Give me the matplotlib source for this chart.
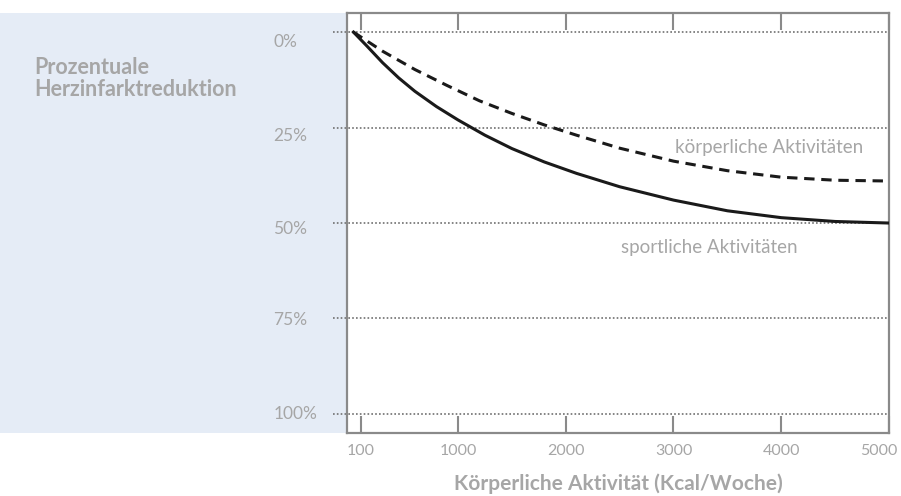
import matplotlib
matplotlib.use("Agg")
import matplotlib.pyplot as plt
import matplotlib.transforms as mtransforms
from matplotlib.patches import Rectangle

# data (reduction in %, activity in kcal/week)
x_sport = [30, 150, 300, 450, 600, 800, 1000, 1250, 1500, 1800, 2100, 2500, 3000, 3500, 4000, 4500, 4990]
y_sport = [0, 3.5, 8, 12, 15.5, 19.5, 23, 27, 30.5, 34, 37, 40.5, 44, 46.8, 48.6, 49.6, 50]
x_koerper = [30, 300, 600, 900, 1200, 1500, 1800, 2100, 2500, 3000, 3500, 4000, 4500, 4990]
y_koerper = [0, 5, 9.8, 14, 18, 21.3, 24.3, 27, 30.4, 33.8, 36.3, 38, 38.8, 39]

x_ticks = [100, 1000, 2000, 3000, 4000, 5000]
y_ticks = [0, 25, 50, 75, 100]
y_ticklabels = ['0%', '25%', '50%', '75%', '100%']

grey_txt = '#a6a6a6'
spine_col = '#8a8a8a'

plt.rcParams['font.family'] = ['Lato', 'DejaVu Sans']

fig = plt.figure(figsize=(9.01, 4.96), dpi=100)
fig.patches.append(Rectangle((0, 0.127), 0.385, 0.847, transform=fig.transFigure,
                             facecolor='#e5ecf6', edgecolor='none', zorder=-5))
ax = fig.add_axes([0.3851, 0.127, 0.6016, 0.8468])

ax.plot(x_sport, y_sport, color='#1a1a1a', lw=2.2, zorder=3)
ax.plot(x_koerper, y_koerper, color='#1a1a1a', lw=2.2, ls=(0, (3.4, 2.2)), zorder=3)

ax.hlines(y_ticks, -0.026, 1, transform=ax.get_yaxis_transform(), clip_on=False,
          colors='#707070', linestyles=(0, (1, 1.3)), lw=1.2, zorder=2)

ax.set_xlim(-30, 5000)
ax.set_ylim(105, -5)
ax.set_xticks(x_ticks)
ax.set_xticklabels([str(t) for t in x_ticks])
ax.set_yticks(y_ticks)
ax.set_yticklabels(y_ticklabels)

ax.tick_params(axis='x', direction='in', length=12, width=1.5, color=spine_col,
               top=True, labelsize=11.5, labelcolor=grey_txt, pad=8)
ax.tick_params(axis='y', length=0, labelsize=12.5, labelcolor=grey_txt, pad=53)
# the upper % labels sit a little below their lines in the reference
shifts = [8, 7, 4, 0, -1]
for lab, dy in zip(ax.get_yticklabels(), shifts):
    lab.set_horizontalalignment('left')
    lab.set_transform(lab.get_transform() + mtransforms.ScaledTranslation(0, -dy / 100, fig.dpi_scale_trans))
# last x label sits a bit left of the corner like in the reference
last = ax.get_xticklabels()[-1]
last.set_horizontalalignment('right')
last.set_transform(last.get_transform() + mtransforms.ScaledTranslation(8 / 100, 0, fig.dpi_scale_trans))

for s in ax.spines.values():
    s.set_color(spine_col)
    s.set_linewidth(1.6)

ax.text(3013, 30.1, 'körperliche Aktivitäten', ha='left', va='center',
        fontsize=13.5, color=grey_txt)
ax.text(2512, 56.3, 'sportliche Aktivitäten', ha='left', va='center',
        fontsize=13.5, color=grey_txt)

ax.set_xlabel('Körperliche Aktivität (Kcal/Woche)', fontsize=15, fontweight='bold',
              color=grey_txt, labelpad=11)
fig.text(34 / 901, 1 - 57 / 496, 'Prozentuale\nHerzinfarktreduktion', ha='left', va='top',
         fontsize=15.5, fontweight='bold', color=grey_txt, linespacing=1.05)

fig.savefig('out.png', dpi=100)
